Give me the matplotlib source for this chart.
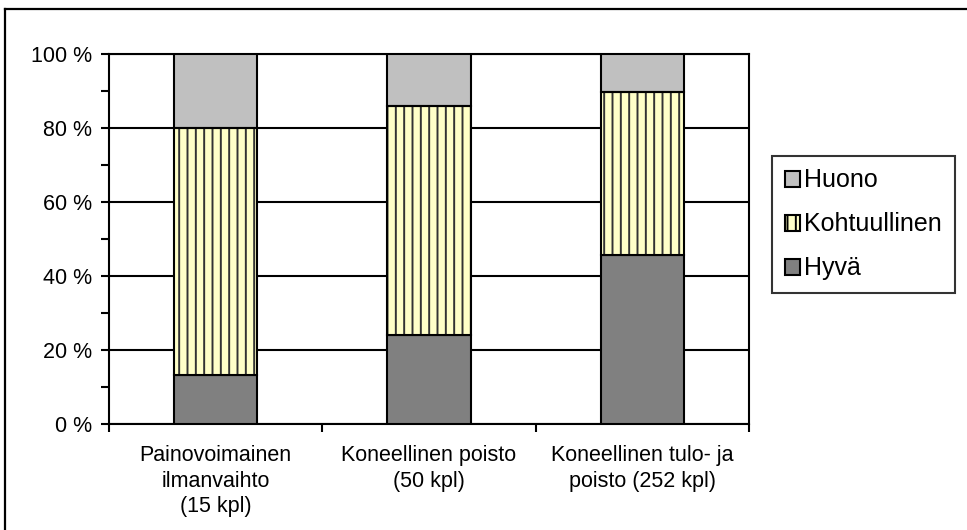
import numpy as np
import matplotlib.pyplot as plt
from matplotlib.patches import Patch
from matplotlib.lines import Line2D

# Data ========================================================================

categories = ['Painovoimainen\nilmanvaihto\n(15 kpl)',
              'Koneellinen poisto\n(50 kpl)',
              'Koneellinen tulo- ja\npoisto (252 kpl)']
hyva = [13.3, 24.0, 45.6]
kohtuullinen = [66.7, 62.0, 44.0]
huono = [20.0, 14.0, 10.4]
yticks = [0, 20, 40, 60, 80, 100]

# Figure ======================================================================

plt.rcParams['font.family'] = ['Liberation Sans', 'DejaVu Sans']
plt.rcParams['hatch.linewidth'] = 1.4

fig = plt.figure(figsize=(9.67, 5.30), dpi=100)
fig.set_facecolor('w')
ax = fig.add_axes([109/967, 1 - 424/530, 640/967, 370/530])

x = np.arange(len(categories))
w = 0.39

ax.bar(x, hyva, w, color='#808080', edgecolor='black', linewidth=1.5, zorder=3)
ax.bar(x, kohtuullinen, w, bottom=hyva, color='#FFFFC8', edgecolor='#333333',
       hatch='||', linewidth=0, zorder=3)
ax.bar(x, kohtuullinen, w, bottom=hyva, fill=False, edgecolor='black',
       linewidth=1.5, zorder=4)
bottom2 = np.array(hyva) + np.array(kohtuullinen)
ax.bar(x, huono, w, bottom=bottom2, color='#C0C0C0', edgecolor='black',
       linewidth=1.5, zorder=3)

ax.set_xlim(-0.5, 2.5)
ax.set_ylim(0, 100)
ax.set_yticks(yticks)
ax.set_yticklabels(['%d %%' % v for v in yticks], fontsize=15.5)
ax.set_yticks(np.arange(10, 100, 20), minor=True)
ax.yaxis.grid(True, color='black', linewidth=1.5, zorder=0)
ax.tick_params(axis='y', which='both', direction='out', length=6, width=1.5, pad=6)

ax.set_xticks(x)
ax.set_xticklabels(categories, fontsize=15.5, linespacing=1.3)
ax.set_xticks([-0.5, 0.5, 1.5, 2.5], minor=True)
ax.tick_params(axis='x', which='major', length=0, pad=15)
ax.tick_params(axis='x', which='minor', direction='out', length=6, width=1.5)

for s in ax.spines.values():
    s.set_linewidth(1.5)
    s.set_color('black')

# Legend (reversed order, like the original).
handles = [Patch(facecolor='#C0C0C0', edgecolor='black', linewidth=1.5),
           Patch(facecolor='#FFFFC8', edgecolor='black', linewidth=1.5, hatch='||'),
           Patch(facecolor='#808080', edgecolor='black', linewidth=1.5)]
leg = fig.legend(handles, ['Huono', 'Kohtuullinen', 'Hyvä'],
                 loc='upper left', bbox_to_anchor=(772/967, 1 - 156/530),
                 bbox_transform=fig.transFigure, borderaxespad=0,
                 fontsize=18, frameon=True, fancybox=False, shadow=False,
                 handlelength=0.6, handleheight=0.6, handletextpad=0.2,
                 labelspacing=0.8, borderpad=0.5)
leg.get_frame().set_edgecolor('black')
leg.get_frame().set_linewidth(1.5)

# Outer chart border (left and top visible).
fig.add_artist(Line2D([5/967, 5/967], [0, 1 - 9/530], color='black', linewidth=1.6,
                      transform=fig.transFigure))
fig.add_artist(Line2D([5/967, 1], [1 - 9/530, 1 - 9/530], color='black', linewidth=1.6,
                      transform=fig.transFigure))

plt.savefig('out.png', dpi=100)
